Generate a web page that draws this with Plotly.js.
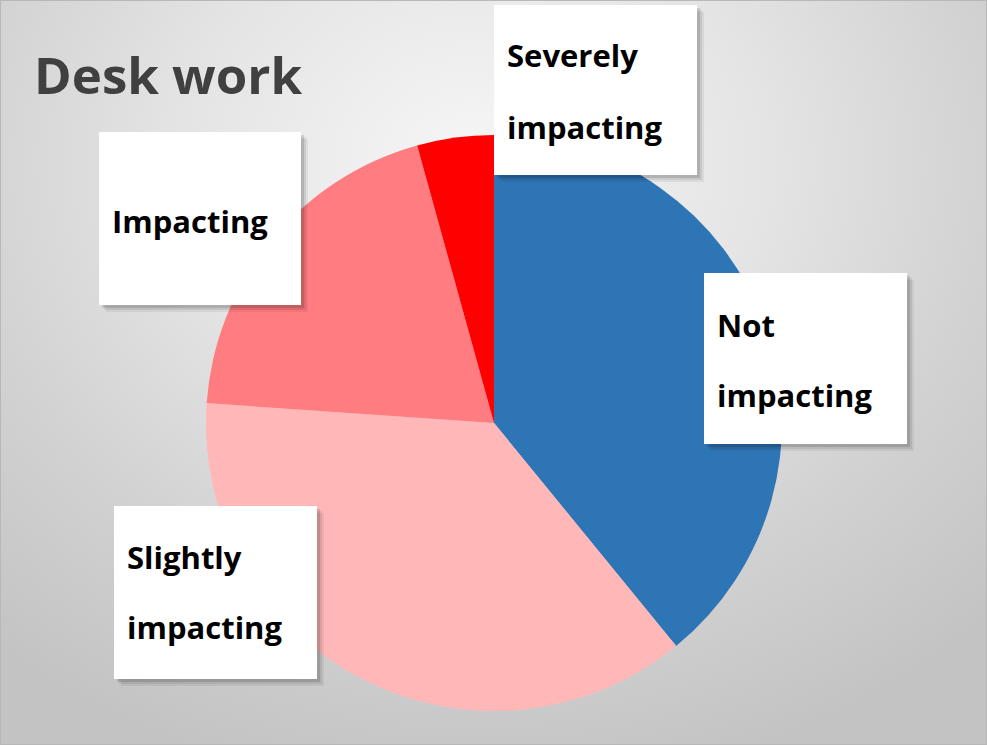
<!DOCTYPE html>
<html>
<head>
<meta charset="utf-8">
<script src="https://cdn.plot.ly/plotly-3.0.1.min.js"></script>
<style>
  html, body { margin: 0; padding: 0; }
  body {
    width: 987px; height: 745px; overflow: hidden;
    background: radial-gradient(ellipse 75% 85% at 48% 22%, #f6f6f6 0%, #e4e4e4 40%, #d2d2d2 70%, #c3c3c3 100%);
  }
  #frame { position: absolute; left: 0; top: 0; width: 985px; height: 743px; border: 1px solid #b8b8b8; }
  #chart { position: absolute; left: 0; top: 0; width: 987px; height: 745px; }
</style>
</head>
<body>
<div id="frame"></div>
<div id="chart"></div>
<script>
// ---- data ----
const chartTitle = "Desk work";
const categories = ["Not impacting", "Slightly impacting", "Impacting", "Severely impacting"];
const values = [39.1, 37.0, 19.6, 4.3];
const sliceColors = ["#2E75B6", "#FFB7B7", "#FF7C80", "#FF0000"];
// label text as shown in the boxes (line broken)
const labelLines = [["Not", "impacting"], ["Slightly", "impacting"], ["Impacting"], ["Severely", "impacting"]];

// ---- layout helpers (pixel -> paper) ----
const W = 987, H = 745;
const px = x => x / W;
const py = y => 1 - y / H;

// pie geometry
const cx = 494, cy = 423, r = 288;

// label box geometry per category (pixels): [left, top, right, bottom, textLeft, lineCenters]
const boxes = [
  [704, 273, 907, 444, 715, [325, 395]],
  [114, 506, 317, 679, 125, [557, 627]],
  [99, 132, 301, 305, 110, [221]],
  [494, 5, 697, 175, 505, [55, 127]]
];

const shapes = [];
const annotations = [];

boxes.forEach((b, i) => {
  const [l, t, rr, bt, tx, lines] = b;
  // soft shadow
  [[7, 0.06], [5, 0.08], [3, 0.12]].forEach(([o, a]) => {
    shapes.push({type: "rect", xref: "paper", yref: "paper",
      x0: px(l + o), x1: px(rr + o), y0: py(bt + o), y1: py(t + o),
      fillcolor: "rgba(0,0,0," + a + ")", line: {width: 0}, layer: "above"});
  });
  shapes.push({type: "rect", xref: "paper", yref: "paper",
    x0: px(l), x1: px(rr), y0: py(bt), y1: py(t),
    fillcolor: "#ffffff", line: {width: 0}, layer: "above"});
  labelLines[i].forEach((txt, j) => {
    annotations.push({xref: "paper", yref: "paper", x: px(tx), y: py(lines[j]),
      xanchor: "left", yanchor: "middle", showarrow: false,
      text: "<b>" + txt + "</b>",
      font: {family: "Open Sans, sans-serif", size: 31, color: "#000000"}});
  });
});

annotations.push({xref: "paper", yref: "paper", x: px(32), y: py(74),
  xanchor: "left", yanchor: "middle", showarrow: false,
  text: "<b>" + chartTitle + "</b>",
  font: {family: "Open Sans, sans-serif", size: 51, color: "#404040"}});

const trace = {
  type: "pie",
  labels: categories,
  values: values,
  sort: false,
  direction: "clockwise",
  rotation: 0,
  marker: {colors: sliceColors, line: {width: 0}},
  textinfo: "none",
  hoverinfo: "label+percent",
  showlegend: false,
  domain: {x: [px(cx - r), px(cx + r)], y: [py(cy + r), py(cy - r)]}
};

const layout = {
  width: W, height: H,
  margin: {l: 0, r: 0, t: 0, b: 0},
  paper_bgcolor: "rgba(0,0,0,0)",
  plot_bgcolor: "rgba(0,0,0,0)",
  showlegend: false,
  shapes: shapes,
  annotations: annotations
};

Plotly.newPlot("chart", [trace], layout, {displayModeBar: false, staticPlot: true});
</script>
</body>
</html>
